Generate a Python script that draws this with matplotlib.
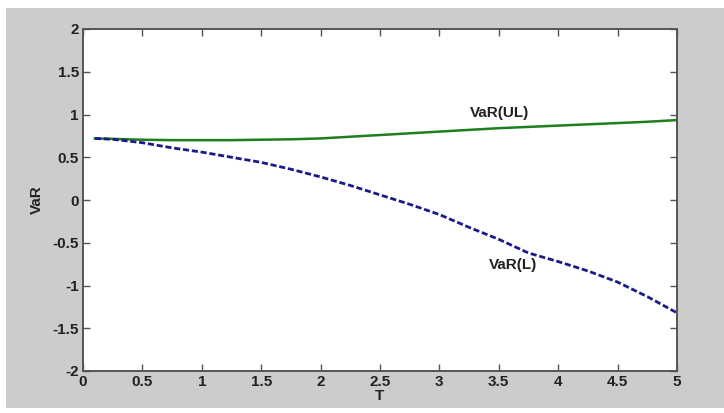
import numpy as np
import matplotlib
matplotlib.use('Agg')
from matplotlib import pyplot as plt
from matplotlib.patches import Rectangle

# horizonte T y curvas de VaR
T = [0.1, 0.25, 0.5, 0.75, 1.0, 1.25, 1.5, 1.75, 2.0, 2.25, 2.5,
     2.75, 3.0, 3.25, 3.5, 3.75, 4.0, 4.25, 4.5, 4.75, 5.0]
varUL = [0.72, 0.715, 0.705, 0.70, 0.70, 0.70, 0.705, 0.71, 0.72, 0.74, 0.76,
         0.78, 0.80, 0.82, 0.84, 0.855, 0.87, 0.885, 0.90, 0.915, 0.935]
varL = [0.72, 0.71, 0.67, 0.61, 0.56, 0.50, 0.44, 0.36, 0.27, 0.17, 0.06,
        -0.05, -0.17, -0.32, -0.46, -0.62, -0.72, -0.83, -0.96, -1.13, -1.32]

plt.rcParams['font.family'] = ['Liberation Sans', 'DejaVu Sans']
plt.rcParams['font.weight'] = 'bold'

fig = plt.figure(figsize=(7.24, 4.13), dpi=100, facecolor='white')
fondo = Rectangle((6/724, 5/413), 718/724, 400/413,
                  transform=fig.transFigure, facecolor='#cccccc',
                  edgecolor='none', zorder=-10)
fig.add_artist(fondo)
ax = fig.add_axes([83/724, 42/413, 594/724, 342/413])
ax.set_facecolor('white')

ax.plot(T, varUL, '-', color='#1f7f1f', lw=1.8)
ax.plot(T, varL, '--', color='#1a1a8c', lw=2.0, dashes=(2.2, 1.0))
ax.text(3.51, 1.02, 'VaR(UL)', ha='center', va='center', fontsize=11, fontweight='bold', color='#222222')
ax.text(3.62, -0.76, 'VaR(L)', ha='center', va='center', fontsize=11, fontweight='bold', color='#222222')

ax.set_xlim(0, 5)
ax.set_ylim(-2, 2)
ax.set_xticks(np.arange(0, 5.01, 0.5))
ax.set_yticks(np.arange(-2, 2.01, 0.5))
ax.set_xticklabels(['0', '0.5', '1', '1.5', '2', '2.5', '3', '3.5', '4', '4.5', '5'])
ax.set_yticklabels(['-2', '-1.5', '-1', '-0.5', '0', '0.5', '1', '1.5', '2'])
ax.tick_params(direction='in', top=True, right=True, length=5, width=1,
               color='#555555', labelsize=11, labelcolor='#222222', pad=3)
for s in ax.spines.values():
    s.set_color('#555555')
    s.set_linewidth(1.4)
ax.set_xlabel('T', fontsize=11, fontweight='bold', color='#222222', labelpad=0)
ax.set_ylabel('VaR', fontsize=11, fontweight='bold', color='#222222', labelpad=6)

fig.savefig('out.png', dpi=100, facecolor=fig.get_facecolor())
